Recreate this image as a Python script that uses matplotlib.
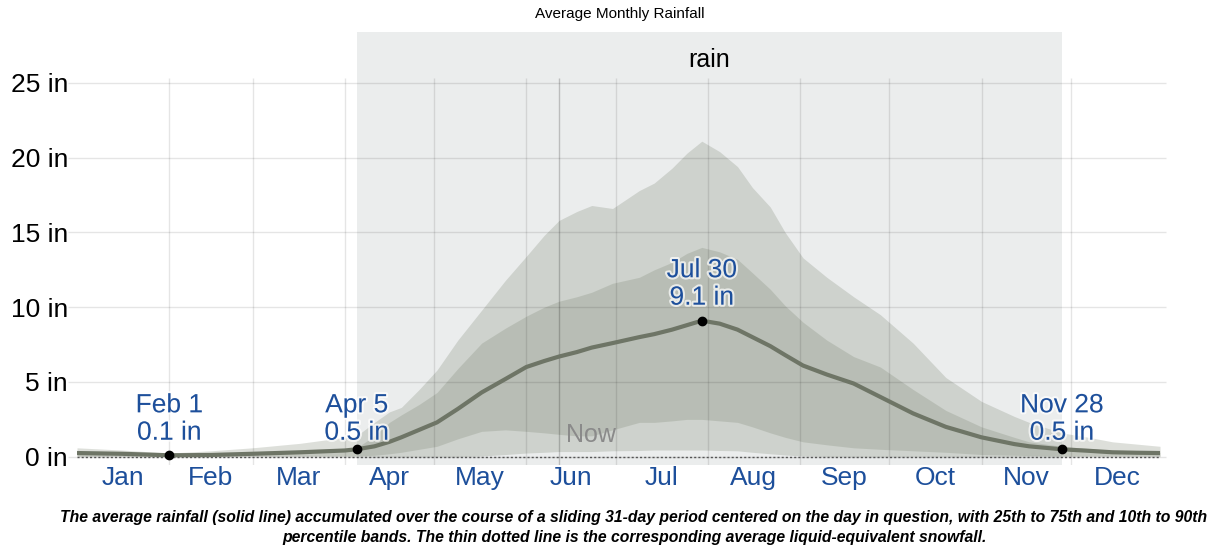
import numpy as np
import matplotlib
matplotlib.use('Agg')
import matplotlib.pyplot as plt
import matplotlib.patheffects as pe

plt.rcParams['font.family'] = ['Liberation Sans', 'DejaVu Sans']

# day of year (0 = Jan 1) for the sampled points
days = [0, 15, 31, 45, 59, 75, 90, 94, 100, 105, 109, 115, 121, 128, 136, 144, 151, 157, 162, 168,
        173, 180, 189, 194, 200, 205, 210, 216, 222, 227, 233, 238, 244, 252, 261, 270, 281, 292,
        304, 315, 320, 331, 340, 348, 356, 364]
mean = [0.25, 0.2, 0.1, 0.12, 0.2, 0.3, 0.42, 0.5, 0.7, 1.0, 1.3, 1.8, 2.3, 3.2, 4.3, 5.2, 6.0, 6.4, 6.7, 7.0,
        7.3, 7.6, 8.0, 8.2, 8.5, 8.8, 9.1, 8.9, 8.5, 8.0, 7.4, 6.8, 6.1, 5.5, 4.9, 4.0, 2.9, 2.0,
        1.3, 0.85, 0.7, 0.5, 0.4, 0.3, 0.27, 0.25]
p25 = [0.05, 0.05, 0.03, 0.03, 0.04, 0.05, 0.05, 0.06, 0.1, 0.2, 0.3, 0.5, 0.7, 1.2, 1.7, 1.8, 1.7, 1.6, 1.5, 1.4,
       1.4, 1.8, 2.3, 2.3, 2.4, 2.5, 2.5, 2.4, 2.3, 2.0, 1.6, 1.3, 1.0, 0.8, 0.6, 0.5, 0.4, 0.3,
       0.15, 0.1, 0.08, 0.05, 0.05, 0.05, 0.05, 0.05]
p75 = [0.3, 0.25, 0.15, 0.18, 0.25, 0.35, 0.5, 0.6, 1.4, 2.3, 2.8, 3.5, 4.3, 5.9, 7.6, 8.6, 9.4, 10.0, 10.4, 10.7,
       11.0, 11.6, 12.0, 12.5, 13.0, 13.6, 14.0, 13.7, 13.2, 12.3, 11.2, 10.1, 9.0, 7.8, 6.7, 6.0, 4.5, 3.1,
       2.0, 1.3, 1.0, 0.7, 0.55, 0.4, 0.35, 0.3]
p10 = [0, 0, 0, 0, 0, 0, 0, 0, 0, 0, 0, 0, 0, 0, 0.05, 0.15, 0.25, 0.3, 0.35, 0.35,
       0.35, 0.4, 0.42, 0.45, 0.45, 0.45, 0.45, 0.42, 0.4, 0.3, 0.2, 0.12, 0.05, 0.02, 0, 0, 0, 0,
       0, 0, 0, 0, 0, 0, 0, 0]
p90 = [0.6, 0.45, 0.25, 0.4, 0.6, 0.9, 1.3, 1.4, 2.3, 3.0, 3.3, 4.5, 5.8, 7.8, 9.8, 11.8, 13.4, 14.8, 15.8, 16.4,
       16.8, 16.6, 17.8, 18.3, 19.3, 20.3, 21.1, 20.4, 19.4, 18.0, 16.7, 15.0, 13.3, 12.0, 10.7, 9.5, 7.6, 5.3,
       3.7, 2.7, 2.3, 1.6, 1.3, 1.0, 0.85, 0.7]
snow_days = [0, 364]
snow = [0.0, 0.0]

months = ['Jan', 'Feb', 'Mar', 'Apr', 'May', 'Jun', 'Jul', 'Aug', 'Sep', 'Oct', 'Nov', 'Dec']
month_starts = [0, 31, 59, 90, 120, 151, 181, 212, 243, 273, 304, 334, 365]
yticks = [0, 5, 10, 15, 20, 25]
ylabels = ['0 in', '5 in', '10 in', '15 in', '20 in', '25 in']

rain_start, rain_end = 94, 331
now_day = 162
labels = [(31, 0.1, 'Feb 1\n0.1 in'), (94, 0.5, 'Apr 5\n0.5 in'),
          (210, 9.1, 'Jul 30\n9.1 in'), (331, 0.5, 'Nov 28\n0.5 in')]

blue = '#1d4f9b'

fig = plt.figure(figsize=(12.24, 5.49), dpi=100)
ax = fig.add_axes([77/1224, 84/549, 1086/1224, 433/549])
ax.set_xlim(0, 365)
ax.set_ylim(-0.55, 28.4)
for s in ax.spines.values():
    s.set_visible(False)

# rainy season shading
ax.axvspan(rain_start, rain_end, color='#ebeded', zorder=0, lw=0)
ax.text((rain_start + rain_end) / 2, 26.5, 'rain', ha='center', va='center', fontsize=18)

band = (0.47, 0.51, 0.43)
ax.fill_between(days, p10, p90, color=band, alpha=0.25, lw=0, zorder=1)
ax.fill_between(days, p25, p75, color=band, alpha=0.25, lw=0, zorder=2)

# grid on top of bands
ax.hlines(yticks, -3, 366, colors='k', alpha=0.1, lw=1, zorder=3, clip_on=False)
ax.vlines(month_starts[1:-1], -0.55, 25.35, colors='k', alpha=0.1, lw=1, zorder=3)
ax.vlines([now_day], -0.55, 25.35, colors='k', alpha=0.2, lw=1, zorder=3)
ax.text(now_day + 2.5, 1.45, 'Now', color='#8a8a8a', fontsize=18, va='center', zorder=3)

ax.plot(snow_days, snow, color='#555555', lw=1, ls=(0, (1.5, 1.5)), zorder=4)
ax.plot(days, mean, color='#6e7566', lw=3, zorder=5, solid_capstyle='butt')

for d, v, t in labels:
    ax.plot(d, v, 'o', color='black', ms=6, zorder=6)
    ty = v + 1.07 if v > 2 else 1.14
    ax.text(d, ty, t, ha='center', va='baseline', color=blue, fontsize=19, linespacing=1.18, zorder=7,
            path_effects=[pe.withStroke(linewidth=3, foreground='white', alpha=0.7)])

ax.set_yticks(yticks)
ax.set_yticklabels(ylabels, fontsize=19)
ax.tick_params(axis='y', length=0, pad=6.5)
ax.set_xticks([])
for i, m in enumerate(months):
    ax.text((month_starts[i] + month_starts[i + 1]) / 2, -1.45, m, ha='center', va='center',
            color=blue, fontsize=19, clip_on=False)

fig.text(0.5065, 0.974, 'Average Monthly Rainfall', ha='center', va='center', fontsize=11)
fig.text(0.518, 0.039, 'The average rainfall (solid line) accumulated over the course of a sliding 31-day period '
         'centered on the day in question, with 25th to 75th and 10th to 90th\npercentile bands. '
         'The thin dotted line is the corresponding average liquid-equivalent snowfall.',
         ha='center', va='center', fontsize=11.3, style='italic', weight='bold', linespacing=1.4)

fig.savefig('out.png', dpi=100)
